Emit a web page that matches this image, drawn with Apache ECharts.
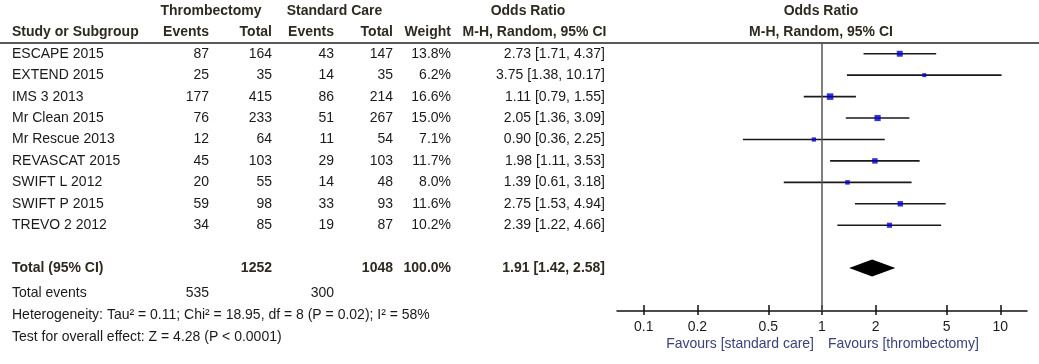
<!DOCTYPE html>
<html><head><meta charset="utf-8">
<script src="https://cdn.jsdelivr.net/npm/echarts@6/dist/echarts.min.js"></script>
<style>html,body{margin:0;padding:0;background:#fff}#c{width:1039px;height:364px}</style>
</head><body><div id="c"></div>
<script>
// ---- data ----
const studies = ['ESCAPE 2015','EXTEND 2015','IMS 3 2013','Mr Clean 2015','Mr Rescue 2013','REVASCAT 2015','SWIFT L 2012','SWIFT P 2015','TREVO 2 2012'];
const thrombEvents = [87,25,177,76,12,45,20,59,34];
const thrombTotal = [164,35,415,233,64,103,55,98,85];
const stdEvents = [43,14,86,51,11,29,14,33,19];
const stdTotal = [147,35,214,267,54,103,48,93,87];
const weights = [13.8,6.2,16.6,15.0,7.1,11.7,8.0,11.6,10.2];
const orVals = [2.73,3.75,1.11,2.05,0.90,1.98,1.39,2.75,2.39];
const ciLow = [1.71,1.38,0.79,1.36,0.36,1.11,0.61,1.53,1.22];
const ciHigh = [4.37,10.17,1.55,3.09,2.25,3.53,3.18,4.94,4.66];
const totalOR = [1.91, 1.42, 2.58];          // pooled OR, low, high
const totalCounts = [1252, 1048, 100.0];      // thromb total, std total, weight
const totalEvents = [535, 300];
const hetStats = [0.11, 18.95, 8, '0.02', 58]; // Tau2, Chi2, df, P, I2
const overallStats = [4.28, '< 0.0001'];       // Z, P
const axisTicks = [0.1, 0.2, 0.5, 1, 2, 5, 10];
const favours = ['Favours [standard care]', 'Favours [thrombectomy]'];

// ---- layout / style ----
const W = 1039, H = 364;
const TOP = 43, ROW_H = 21.44, AXIS_Y = 311;
const FONT = "'Liberation Sans',Arial,sans-serif";
const FS = 14.5, SX = 0.965;
const TXT = '#1a1a1a', HEAD = '#2f2a20', FAV = '#38437a';
const TOTAL_ROW = studies.length + 1;

const rows = studies.map((_, i) => i);
const fmt2 = v => v.toFixed(2);
const orText = (o, l, h) => `${fmt2(o)} [${fmt2(l)}, ${fmt2(h)}]`;

// text items
const texts = [];
function add(x, row, t, align, bold, color) { texts.push({ x, row, t: String(t), align, bold: !!bold, color: color || TXT }); }
// headers
add(211, -2, 'Thrombectomy', 'center', 1, HEAD);
add(334.5, -2, 'Standard Care', 'center', 1, HEAD);
add(528, -2, 'Odds Ratio', 'center', 1, HEAD);
add(821, -2, 'Odds Ratio', 'center', 1, HEAD);
add(12, -1, 'Study or Subgroup', 'left', 1, HEAD);
add(209, -1, 'Events', 'right', 1, HEAD);
add(272, -1, 'Total', 'right', 1, HEAD);
add(334, -1, 'Events', 'right', 1, HEAD);
add(393, -1, 'Total', 'right', 1, HEAD);
add(451, -1, 'Weight', 'right', 1, HEAD);
add(534.5, -1, 'M-H, Random, 95% CI', 'center', 1, HEAD);
add(821, -1, 'M-H, Random, 95% CI', 'center', 1, HEAD);
// study rows
rows.forEach(i => {
  add(12, i, studies[i], 'left');
  add(209, i, thrombEvents[i], 'right');
  add(272, i, thrombTotal[i], 'right');
  add(334, i, stdEvents[i], 'right');
  add(393, i, stdTotal[i], 'right');
  add(451, i, weights[i].toFixed(1) + '%', 'right');
  add(605, i, orText(orVals[i], ciLow[i], ciHigh[i]), 'right');
});
// total row
add(12, TOTAL_ROW, 'Total (95% CI)', 'left', 1, HEAD);
add(272, TOTAL_ROW, totalCounts[0], 'right', 1, HEAD);
add(393, TOTAL_ROW, totalCounts[1], 'right', 1, HEAD);
add(451, TOTAL_ROW, totalCounts[2].toFixed(1) + '%', 'right', 1, HEAD);
add(605, TOTAL_ROW, orText(totalOR[0], totalOR[1], totalOR[2]), 'right', 1, HEAD);
// footer
add(12, TOTAL_ROW + 1.15, 'Total events', 'left');
add(209, TOTAL_ROW + 1.15, totalEvents[0], 'right');
add(334, TOTAL_ROW + 1.15, totalEvents[1], 'right');
add(12, TOTAL_ROW + 2.2, `Heterogeneity: Tau² = ${hetStats[0]}; Chi² = ${hetStats[1]}, df = ${hetStats[2]} (P = ${hetStats[3]}); I² = ${hetStats[4]}%`, 'left');
add(12, TOTAL_ROW + 3.2, `Test for overall effect: Z = ${overallStats[0]} (P ${overallStats[1]})`, 'left');
add(814, TOTAL_ROW + 3.54, favours[0], 'right', 0, FAV);
add(828, TOTAL_ROW + 3.54, favours[1], 'left', 0, FAV);

function textEl(p, t, align, bold, color) {
  return { type: 'text', x: p[0], y: p[1], scaleX: SX,
    style: { text: t, x: 0, y: 0, align: align, verticalAlign: 'middle',
      font: (bold ? 'bold ' : '') + FS + 'px ' + FONT, fill: color } };
}

const textSeries = {
  type: 'custom', xAxisIndex: 1, yAxisIndex: 1, silent: true, clip: false,
  data: texts.map((d, k) => [d.x, d.row, k]),
  encode: { x: 0, y: 1 },
  renderItem: (params, api) => {
    const d = texts[api.value(2)];
    return textEl(api.coord([api.value(0), api.value(1)]), d.t, d.align, d.bold, d.color);
  }
};

const lmin = Math.pow(10, -1.15), lmax = Math.pow(10, 1.15);
const mainGrid = { left: 617, right: 12, top: TOP, bottom: H - AXIS_Y, outerBoundsMode: 'none' };
const logAxisBase = { type: 'log', logBase: 10, min: lmin, max: lmax, splitLine: { show: false }, minorTick: { show: false } };
const yMain = { type: 'value', inverse: true, min: -0.5, max: (AXIS_Y - TOP) / ROW_H - 0.5, show: false };

const option = {
  animation: false,
  grid: [
    mainGrid,
    { left: 0, right: 0, top: 0, bottom: 0, outerBoundsMode: 'none' },
    Object.assign({}, mainGrid)
  ],
  xAxis: [
    Object.assign({}, logAxisBase, { gridIndex: 0, position: 'bottom',
      axisLine: { show: true, onZero: false, lineStyle: { color: '#111', width: 1.5 } },
      axisTick: { show: true, inside: true, length: 6, customValues: axisTicks, lineStyle: { color: '#111', width: 1.5 } },
      axisLabel: { show: false } }),
    { type: 'value', gridIndex: 1, min: 0, max: W, show: false },
    Object.assign({}, logAxisBase, { gridIndex: 2, position: 'bottom',
      axisLine: { show: false, onZero: false },
      axisTick: { show: true, inside: false, length: 4, customValues: axisTicks, lineStyle: { color: '#111', width: 1.5 } },
      axisLabel: { show: false } })
  ],
  yAxis: [
    Object.assign({ gridIndex: 0 }, yMain),
    { type: 'value', gridIndex: 1, inverse: true, min: -TOP / ROW_H - 0.5, max: (H - TOP) / ROW_H - 0.5, show: false },
    Object.assign({ gridIndex: 2 }, yMain)
  ],
  series: [
    // header rule
    { type: 'line', xAxisIndex: 1, yAxisIndex: 1, silent: true, symbol: 'none',
      lineStyle: { color: '#222', width: 1.5 }, data: [[0, -0.5], [W, -0.5]] },
    // CI lines + line of no effect
    { type: 'custom', xAxisIndex: 0, yAxisIndex: 0, silent: true, clip: false,
      data: rows.map(i => [ciLow[i], ciHigh[i], i]),
      encode: { x: [0, 1], y: 2 },
      renderItem: (params, api) => {
        const a = api.coord([api.value(0), api.value(2)]);
        const b = api.coord([api.value(1), api.value(2)]);
        return { type: 'line', shape: { x1: a[0], y1: a[1], x2: b[0], y2: b[1] },
          style: { stroke: '#1a1a1a', lineWidth: 1.6 } };
      },
      markLine: { silent: true, symbol: 'none', label: { show: false },
        lineStyle: { color: '#555', width: 1.5, type: 'solid' }, data: [{ xAxis: 1 }] } },
    // point estimates
    { type: 'scatter', xAxisIndex: 0, yAxisIndex: 0, silent: true, symbol: 'rect',
      data: rows.map(i => [orVals[i], i, weights[i]]),
      symbolSize: v => 1.6 * Math.sqrt(v[2]),
      itemStyle: { color: '#0000cc' } },
    // pooled diamond
    { type: 'custom', xAxisIndex: 0, yAxisIndex: 0, silent: true,
      data: [[totalOR[1], totalOR[0], totalOR[2], TOTAL_ROW]],
      encode: { x: [0, 1, 2], y: 3 },
      renderItem: (params, api) => {
        const row = api.value(3);
        const l = api.coord([api.value(0), row]);
        const c = api.coord([api.value(1), row]);
        const r = api.coord([api.value(2), row]);
        const hh = 8.5;
        return { type: 'polygon', shape: { points: [[l[0], l[1]], [c[0], c[1] - hh], [r[0], r[1]], [c[0], c[1] + hh]] },
          style: { fill: '#000' } };
      } },
    // axis tick labels (placed through the log scale)
    { type: 'custom', xAxisIndex: 0, yAxisIndex: 0, silent: true, clip: false,
      data: axisTicks.map(v => [v, TOTAL_ROW + 2.75]),
      encode: { x: 0, y: 1 },
      renderItem: (params, api) => {
        const v = api.value(0);
        return textEl(api.coord([v, api.value(1)]), String(+v.toPrecision(3)), 'center', false, TXT);
      } },
    textSeries
  ]
};

const chart = echarts.init(document.getElementById('c'), null, { renderer: 'canvas' });
chart.setOption(option);
</script></body></html>
